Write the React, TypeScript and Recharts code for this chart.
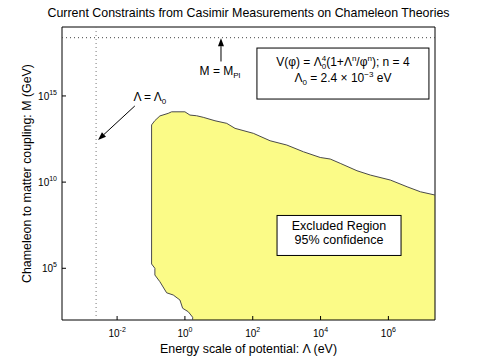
import { Area, ComposedChart, Label, Line, ReferenceArea, ReferenceDot, ReferenceLine, XAxis, YAxis } from 'recharts'

const FONT = '"Liberation Sans", Arial, Helvetica, sans-serif'

// everything is log10: Lambda in eV, M in GeV
const upperLogLambda = [-0.983, -0.886, -0.738, -0.493, -0.392, 0.0, 0.148, 0.346, 0.541, 0.887, 1.233, 1.478, 2.019, 2.512, 3.006, 3.496, 3.99, 4.285, 4.58, 5.074, 5.467, 6.059, 6.552, 6.945, 7.375]
const upperLogM = [13.32, 13.57, 13.84, 13.99, 14.08, 14.08, 13.89, 13.85, 13.76, 13.56, 13.41, 13.12, 12.83, 12.4, 12.15, 11.76, 11.43, 11.34, 11.09, 10.66, 10.41, 10.12, 9.73, 9.44, 9.25]
const lowerLogLambda = [-0.983, -0.886, -0.886, -0.738, -0.54, -0.345, -0.147, -0.067, 0.098, 0.228, 0.228]
const lowerLogM = [5.25, 5.0, 4.61, 4.22, 3.58, 3.45, 3.16, 2.68, 2.48, 2.16, 2.0]

const xTicks = [-2, 0, 2, 4, 6]
const yTicks = [5, 10, 15]
const xDomain: [number, number] = [-3.625, 7.375]
const yDomain: [number, number] = [2, 19]

const logPlanckMass = 18.38
const logLambda0 = Math.log10(2.4e-3)
const planckArrow = [{ x: 1.064, y: 17.0 }, { x: 1.064, y: 18.35 }]
const lambdaArrow = [{ x: -1.477, y: 14.42 }, { x: -2.561, y: 12.45 }]
const formulaAt = { x: 4.66, y: 16.3 }
const excludedAt = { x: 4.545, y: 6.905 }

const upper = upperLogLambda.map((x, i) => ({ x, y: upperLogM[i] }))
const lower = lowerLogLambda.map((x, i) => ({ x, y: lowerLogM[i] }))
const outline = [...lower].reverse().concat(upper)

function BottomTick({ x, y, payload }: any) {
  return (
    <g>
      <line x1={x} x2={x} y1={y} y2={y - 4} stroke="#000" />
      <text x={x} y={y + 17} textAnchor="middle" fontSize={10} fontFamily={FONT} fill="#000">
        10<tspan dy={-5} fontSize={7}>{payload.value}</tspan>
      </text>
    </g>
  )
}

function TopTick({ x, y }: any) {
  return <line x1={x} x2={x} y1={y} y2={y + 4} stroke="#000" />
}

function LeftTick({ x, y, payload }: any) {
  return (
    <g>
      <line x1={x} x2={x + 4} y1={y} y2={y} stroke="#000" />
      <text x={x - 5} y={y + 4} textAnchor="end" fontSize={10} fontFamily={FONT} fill="#000">
        10<tspan dy={-5} fontSize={7}>{payload.value}</tspan>
      </text>
    </g>
  )
}

function RightTick({ x, y }: any) {
  return <line x1={x} x2={x - 4} y1={y} y2={y} stroke="#000" />
}

function Arrow({ x1, y1, x2, y2 }: any) {
  const dx = x2 - x1
  const dy = y2 - y1
  const len = Math.hypot(dx, dy) || 1
  const ux = dx / len
  const uy = dy / len
  const bx = x2 - ux * 8
  const by = y2 - uy * 8
  const head = `${x2},${y2} ${bx - uy * 3},${by + ux * 3} ${bx + uy * 3},${by - ux * 3}`
  return (
    <g>
      <line x1={x1} y1={y1} x2={bx} y2={by} stroke="#000" strokeWidth={1} />
      <polygon points={head} fill="#000" />
    </g>
  )
}

function FormulaBox({ cx, cy }: any) {
  return (
    <g fontFamily={FONT} fontSize={12} fill="#000">
      <rect x={cx - 86} y={cy - 25.5} width={172} height={51} fill="#fff" stroke="#000" />
      <text x={cx} y={cy - 7.5} textAnchor="middle">
        V(φ) = Λ<tspan dy={3} fontSize={8}>0</tspan>
        <tspan dx={-4.4} dy={-8} fontSize={8}>4</tspan>
        <tspan dy={5}>(1+Λ</tspan>
        <tspan dy={-5} fontSize={8}>n</tspan>
        <tspan dy={5}>/φ</tspan>
        <tspan dy={-5} fontSize={8}>n</tspan>
        <tspan dy={5}>); n = 4</tspan>
      </text>
      <text x={cx} y={cy + 8} textAnchor="middle">
        Λ<tspan dy={3} fontSize={8}>0</tspan>
        <tspan dy={-3}> = 2.4 × 10</tspan>
        <tspan dy={-5} fontSize={8}>−3</tspan>
        <tspan dy={5}> eV</tspan>
      </text>
    </g>
  )
}

function ExcludedBox({ cx, cy }: any) {
  return (
    <g fontFamily={FONT} fontSize={12.5} fill="#000">
      <rect x={cx - 62} y={cy - 20} width={124} height={40} fill="#fff" stroke="#000" />
      <text x={cx} y={cy - 5.5} textAnchor="middle">Excluded Region</text>
      <text x={cx} y={cy + 8.5} textAnchor="middle">95% confidence</text>
    </g>
  )
}

function PlanckLabel({ cx, cy }: any) {
  return (
    <text x={cx - 1} y={cy + 13.5} textAnchor="middle" fontFamily={FONT} fontSize={12} fill="#000">
      M = M<tspan dy={3} fontSize={8}>Pl</tspan>
    </text>
  )
}

function LambdaLabel({ cx, cy }: any) {
  return (
    <text x={cx + 15} y={cy - 5} textAnchor="middle" fontFamily={FONT} fontSize={12} fill="#000">
      Λ = Λ<tspan dy={3} fontSize={8}>0</tspan>
    </text>
  )
}

export default function App() {
  return (
    <div style={{ position: 'absolute', left: 0, top: 0, width: 480, height: 361, background: '#fff' }}>
      <ComposedChart width={480} height={361} margin={{ top: 27, right: 45, bottom: 0, left: 0 }}>
        <Area
          data={upper}
          dataKey="y"
          type="linear"
          baseValue={2}
          fill="#fbfb87"
          fillOpacity={1}
          stroke="none"
          shapeRendering="crispEdges"
          isAnimationActive={false}
        />
        <Area
          data={lower}
          dataKey="y"
          xAxisId="top"
          yAxisId="right"
          type="linear"
          baseValue={2}
          fill="#fff"
          fillOpacity={1}
          stroke="none"
          shapeRendering="crispEdges"
          isAnimationActive={false}
        />
        <Line
          data={outline}
          dataKey="y"
          type="linear"
          stroke="#4a4a4a"
          strokeWidth={1}
          dot={false}
          isAnimationActive={false}
        />
        <ReferenceArea
          x1={xDomain[0]}
          x2={xDomain[1]}
          y1={yDomain[0]}
          y2={yDomain[1]}
          fill="none"
          fillOpacity={0}
          stroke="#000"
          strokeWidth={1}
        />
        <ReferenceLine y={logPlanckMass} stroke="#444" strokeDasharray="1 3" />
        <ReferenceLine x={logLambda0} stroke="#777" strokeDasharray="1 3" />
        <ReferenceLine segment={planckArrow} shape={(p: any) => <Arrow {...p} />} />
        <ReferenceLine segment={lambdaArrow} shape={(p: any) => <Arrow {...p} />} />
        <ReferenceDot x={planckArrow[0].x} y={planckArrow[0].y} r={0} shape={(p: any) => <PlanckLabel {...p} />} />
        <ReferenceDot x={lambdaArrow[0].x} y={lambdaArrow[0].y} r={0} shape={(p: any) => <LambdaLabel {...p} />} />
        <ReferenceDot x={formulaAt.x} y={formulaAt.y} r={0} shape={(p: any) => <FormulaBox {...p} />} />
        <ReferenceDot x={excludedAt.x} y={excludedAt.y} r={0} shape={(p: any) => <ExcludedBox {...p} />} />
        <XAxis
          type="number"
          dataKey="x"
          domain={xDomain}
          ticks={xTicks}
          interval={0}
          allowDataOverflow
          height={41}
          tickSize={0}
          tickMargin={0}
          tick={(p: any) => <BottomTick {...p} />}
          axisLine={false}
        >
          <Label
            content={({ viewBox }: any) => {
              const cx = viewBox.x + viewBox.width / 2
              return (
                <g fontFamily={FONT} fontSize={12.4} fill="#000">
                  <text x={cx} y={viewBox.y + 33} textAnchor="middle">
                    Energy scale of potential: Λ (eV)
                  </text>
                  <text x={cx} y={17} textAnchor="middle">
                    Current Constraints from Casimir Measurements on Chameleon Theories
                  </text>
                </g>
              )
            }}
          />
        </XAxis>
        <XAxis
          xAxisId="top"
          orientation="top"
          type="number"
          dataKey="x"
          domain={xDomain}
          ticks={xTicks}
          interval={0}
          allowDataOverflow
          height={0}
          tickSize={0}
          tickMargin={0}
          tick={(p: any) => <TopTick {...p} />}
          axisLine={false}
        />
        <YAxis
          type="number"
          domain={yDomain}
          ticks={yTicks}
          interval={0}
          allowDataOverflow
          width={62}
          tickSize={0}
          tickMargin={0}
          tick={(p: any) => <LeftTick {...p} />}
          axisLine={false}
        >
          <Label
            content={({ viewBox }: any) => {
              const cy = viewBox.y + viewBox.height / 2
              return (
                <text
                  x={31}
                  y={cy}
                  transform={`rotate(-90, 31, ${cy})`}
                  textAnchor="middle"
                  fontFamily={FONT}
                  fontSize={12.4}
                  fill="#000"
                >
                  Chameleon to matter coupling: M (GeV)
                </text>
              )
            }}
          />
        </YAxis>
        <YAxis
          yAxisId="right"
          orientation="right"
          type="number"
          domain={yDomain}
          ticks={yTicks}
          interval={0}
          allowDataOverflow
          width={0}
          tickSize={0}
          tickMargin={0}
          tick={(p: any) => <RightTick {...p} />}
          axisLine={false}
        />
      </ComposedChart>
    </div>
  )
}
